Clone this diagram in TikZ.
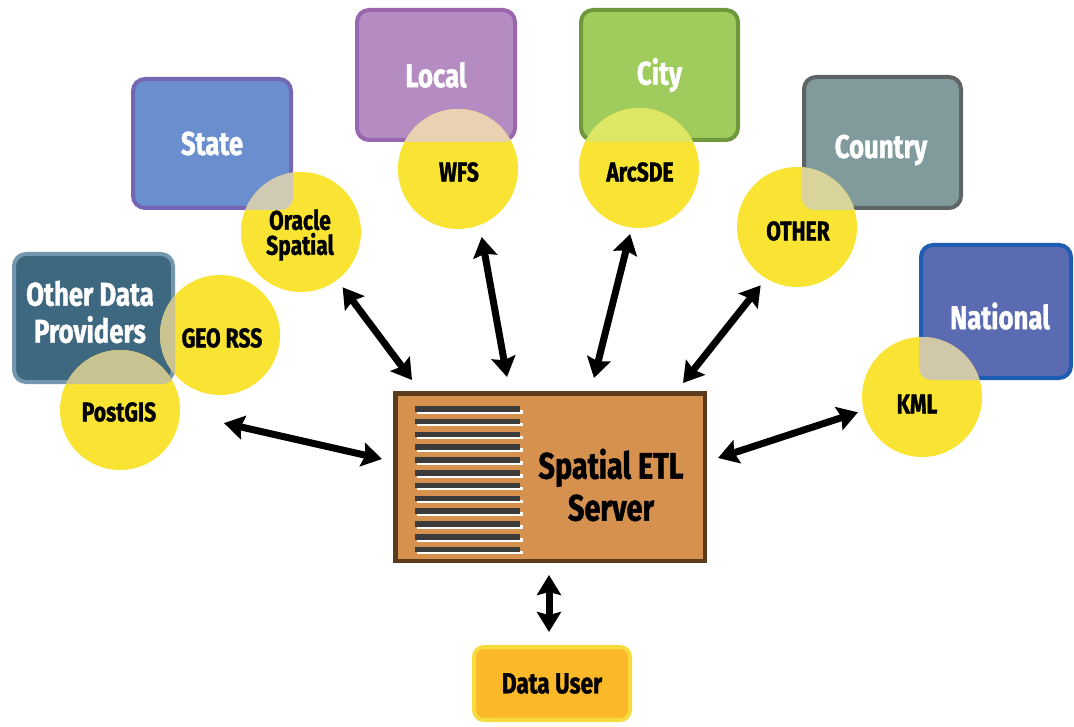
\documentclass[tikz,border=0pt]{standalone}
\usepackage{fontspec}
\setmainfont{Fira Sans}[FakeStretch=0.78, BoldFeatures={FakeBold=1.2}]
\usetikzlibrary{arrows.meta}
\definecolor{cyel}{HTML}{F9E433}
\definecolor{odpF}{HTML}{3E6880}\definecolor{odpD}{HTML}{7497AE}
\definecolor{staF}{HTML}{6A8ECE}\definecolor{staD}{HTML}{7566B3}
\definecolor{locF}{HTML}{B48CC1}\definecolor{locD}{HTML}{9A66AE}
\definecolor{citF}{HTML}{A0CC5E}\definecolor{citD}{HTML}{6E983B}
\definecolor{couF}{HTML}{819B9C}\definecolor{couD}{HTML}{5E6366}
\definecolor{natF}{HTML}{5B6BB1}\definecolor{natD}{HTML}{1E5DB4}
\definecolor{ovOdp}{HTML}{C9C391}\definecolor{ovSta}{HTML}{CFCAB4}
\definecolor{ovLoc}{HTML}{E8D2B2}\definecolor{ovCit}{HTML}{DDE665}
\definecolor{ovCou}{HTML}{D8D49C}\definecolor{ovNat}{HTML}{D0C8A8}
\definecolor{srvF}{HTML}{D6914F}\definecolor{srvD}{HTML}{5B3C1C}
\definecolor{duF}{HTML}{FBB829}\definecolor{duD}{HTML}{F5DC3C}
\definecolor{bar}{HTML}{3B3B3B}
\tikzset{
  srcbox/.style={draw, line width=4pt, rounded corners=12pt, inner sep=0pt,
    text=white, font=\bfseries\fontsize{33}{37}\selectfont, align=center},
  fmt/.style={circle, fill=cyel, minimum size=120pt, inner sep=0pt},
  flbl/.style={font=\bfseries\fontsize{27}{25}\selectfont, align=center, inner sep=0pt},
  biarrow/.style={line width=7pt, {Stealth[length=20pt,width=24pt,inset=3pt]}-{Stealth[length=20pt,width=24pt,inset=3pt]}}
}
\newcommand{\ovl}[3]{\begin{scope}
  \clip[rounded corners=12pt] (#1.south west) rectangle (#1.north east);
  \fill[#3] (#2.center) circle (60pt);
\end{scope}}
\begin{document}
\begin{tikzpicture}[x=1pt,y=-1pt]
\useasboundingbox[fill=white] (0,0) rectangle (1074,727);
% source boxes
\node[srcbox, fill=odpF, draw=odpD, minimum width=159pt, minimum height=128pt] (odp) at (93.5,318) {};
\node[text=white, font=\bfseries\fontsize{33}{37}\selectfont, align=center] (odplabel) at (90,312) {Other Data\\Providers};
\node[srcbox, fill=staF, draw=staD, minimum width=158pt, minimum height=129pt] (state) at (212,143.5) {State};
\node[srcbox, fill=locF, draw=locD, minimum width=158pt, minimum height=130pt] (local) at (436,75) {Local};
\node[srcbox, fill=citF, draw=citD, minimum width=157pt, minimum height=130pt] (city) at (659.5,75) {City};
\node[srcbox, fill=couF, draw=couD, minimum width=157pt, minimum height=131pt] (country) at (882.5,142.5) {};
\node[text=white, font=\bfseries\fontsize{33}{37}\selectfont] (coulabel) at (881,150) {Country};
\node[srcbox, fill=natF, draw=natD, minimum width=150pt, minimum height=133pt] (national) at (996,311.5) {};
\node[text=white, font=\bfseries\fontsize{33}{37}\selectfont] (natlabel) at (1000,316) {National};
% format circles
\node[fmt] (geo) at (220,335) {};
\node[fmt] (postgis) at (120,410) {};
\node[fmt] (oracle) at (301,232) {};
\node[fmt] (wfs) at (458,169) {};
\node[fmt] (arcsde) at (639,168) {};
\node[fmt] (other) at (797,227) {};
\node[fmt] (kml) at (922,397) {};
% overlaps
\ovl{odp}{geo}{ovOdp}
\ovl{odp}{postgis}{ovOdp}
\ovl{state}{oracle}{ovSta}
\ovl{local}{wfs}{ovLoc}
\ovl{city}{arcsde}{ovCit}
\ovl{country}{other}{ovCou}
\ovl{national}{kml}{ovNat}
% circle labels
\node[flbl] (geolbl) at (222,338) {GEO RSS};
\node[flbl] (postgislbl) at (119,412) {PostGIS};
\node[flbl] (oraclelbl) at (300,235) {Oracle\\Spatial};
\node[flbl] (wfslbl) at (459,172) {WFS};
\node[flbl] (arcsdelbl) at (640,172) {ArcSDE};
\node[flbl] (otherlbl) at (798,231) {OTHER};
\node[flbl] (kmllbl) at (917,404) {KML};
% server
\node[draw=srvD, fill=srvF, line width=4.5pt, minimum width=309.5pt, minimum height=167.5pt, inner sep=0pt] (server) at (550,477) {};
\foreach \i in {0,...,11}{
  \fill[white] (417,406+12.8*\i+4) rectangle (523,406+12.8*\i+7.5);
  \fill[bar] (415,406+12.8*\i) rectangle (520,406+12.8*\i+5.5);
}
\node[font=\bfseries\fontsize{37}{42}\selectfont, align=center] (srvlabel) at (611,485) {Spatial ETL\\Server};
% data user
\node[draw=duD, fill=duF, line width=4pt, rounded corners=10pt, minimum width=156pt, minimum height=73pt, inner sep=0pt, font=\bfseries\fontsize{29}{30}\selectfont] (du) at (552,683.5) {Data User};
% connectors
\draw[biarrow, shorten <=9pt] (oracle.-53) -- ([shift={(19pt,11pt)}]server.north west);
\draw[biarrow, shorten <=12pt] (wfs.-69) -- ([shift={(114pt,14pt)}]server.north west);
\draw[biarrow, shorten <=6.5pt] (arcsde.-97) -- ([shift={(201pt,13pt)}]server.north west);
\draw[biarrow, shorten <=8.6pt] (other.-121) -- ([shift={(-24pt,8pt)}]server.north east);
\draw[biarrow, shorten <=5.7pt] (kml.193) -- ([shift={(11pt,19pt)}]server.east);
\draw[biarrow, shorten <=45pt] (postgis.-3) -- ([shift={(-11pt,18pt)}]server.west);
\draw[biarrow] ([shift={(-1pt,-12pt)}]server.south) -- ([shift={(-3pt,13pt)}]du.north);
\end{tikzpicture}
\end{document}
